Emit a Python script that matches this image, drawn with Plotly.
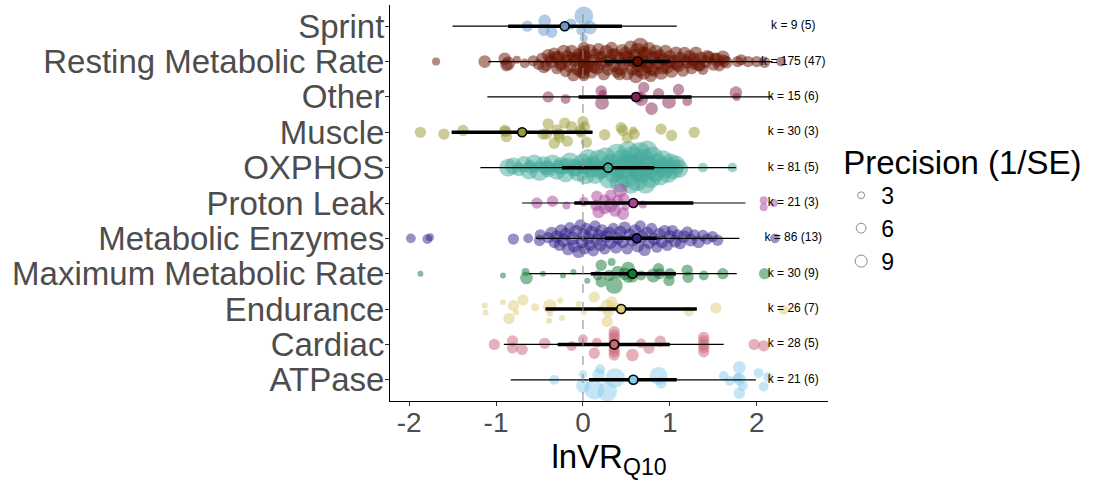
import math
import plotly.graph_objects as go

# ---------------- data ----------------
categories = ["Sprint", "Resting Metabolic Rate", "Other", "Muscle", "OXPHOS",
              "Proton Leak", "Metabolic Enzymes", "Maximum Metabolic Rate",
              "Endurance", "Cardiac", "ATPase"]
colors = ["#6699CC", "#661100", "#882255", "#999933", "#44AA99", "#AA4499",
          "#332288", "#117733", "#DDCC77", "#CC6677", "#88CCEE"]

estimate = [-0.21, 0.63, 0.61, -0.70, 0.29, 0.58, 0.62, 0.57, 0.44, 0.36, 0.58]
ci_low = [-0.86, 0.25, -0.05, -1.51, -0.24, -0.10, 0.25, 0.09, -0.43, -0.29, 0.07]
ci_high = [0.45, 1.00, 1.25, 0.11, 0.82, 1.27, 0.85, 1.07, 1.31, 1.00, 1.08]
pi_low = [-1.50, -1.09, -1.10, -1.51, -1.18, -0.70, -0.54, -0.62, -0.43, -0.91, -0.83]
pi_high = [1.08, 2.18, 2.18, 0.11, 1.76, 1.87, 1.80, 1.77, 1.31, 1.62, 1.99]
k_effects = [9, 175, 15, 30, 81, 21, 86, 30, 26, 28, 21]
k_studies = [5, 47, 6, 3, 5, 3, 13, 9, 7, 5, 6]

sprint_x = [-0.64, -0.44, -0.45, -0.36, -0.14, 0.01, 0.08, -0.02, 0.01]
sprint_jit = [0.00, 0.15, -0.12, -0.17, 0.06, 0.29, -0.04, -0.12, -0.34]
sprint_prec = [4, 5, 4, 4, 4, 11, 6, 3, 2]

rmr_x = [-1.69, -1.13, -0.90, -0.86, -0.88, -0.76, -0.67, -0.57, -0.51, -0.47, -0.40, -0.42,
         -0.36, -0.33, -0.30, -0.28, -0.25, -0.22, -0.20, -0.18, -0.15, -0.13, -0.11, -0.09,
         -0.07, -0.05, -0.03, 0.01, 0.01, 0.01, 0.01, 0.01, 0.01, 0.01, 0.01, 0.01,
         0.03, 0.05, 0.08, 0.10, 0.12, 0.14, 0.16, 0.18, 0.20, 0.22, 0.24, 0.27,
         0.29, 0.31, 0.33, 0.35, 0.37, 0.39, 0.41, 0.43, 0.45, 0.47, 0.49, 0.51,
         0.53, 0.55, 0.57, 0.59, 0.61, 0.63, 0.64, 0.66, 0.68, 0.70, 0.72, 0.74,
         0.76, 0.78, 0.80, 0.82, 0.84, 0.86, 0.88, 0.90, 0.93, 0.95, 0.97, 1.00,
         1.02, 1.05, 1.07, 1.10, 1.12, 1.15, 1.17, 1.20, 1.23, 1.25, 1.28, 1.30,
         1.33, 1.36, 1.38, 1.41, 1.45, 1.50, 1.54, 1.57, 1.61, 1.65, 1.78, 1.82,
         1.90, 2.00, 2.09, 2.28,
         -0.45, -0.38, -0.31, -0.26, -0.19, -0.12, -0.06, 0.06, 0.13, 0.19, 0.26, 0.34,
         0.42, 0.50, 0.58, 0.65, 0.69, 0.73, 0.79, 0.85, 0.92, 0.99, 1.08, 1.18,
         1.27, 1.35, 1.43, 1.52, 1.62]
rmr_jit = [0.00, 0.00, 0.08, -0.05, -0.10, 0.05, -0.05, 0.02, -0.08, 0.10, 0.18, -0.12,
           0.00, 0.22, -0.20, 0.10, -0.05, 0.28, -0.28, 0.15, -0.12, 0.30, -0.38, 0.05,
           -0.22, 0.20, -0.30, 0.38, 0.28, 0.18, 0.08, -0.02, -0.12, -0.22, -0.32, -0.40,
           0.15, -0.15, 0.30, -0.30, 0.05, 0.22, -0.18, 0.35, -0.05, 0.15, -0.35, 0.28,
           -0.22, 0.05, 0.38, -0.10, 0.20, -0.30, 0.10, -0.20, 0.32, -0.05, 0.22, -0.35,
           0.05, 0.40, -0.22, 0.15, -0.42, 0.30, -0.10, 0.45, 0.02, -0.30, 0.22, -0.15,
           0.36, -0.40, 0.10, -0.25, 0.28, -0.05, 0.18, -0.32, 0.05, 0.30, -0.15, 0.15,
           -0.28, 0.00, 0.25, -0.12, 0.12, -0.25, 0.22, -0.02, 0.15, -0.18, 0.05, 0.25,
           -0.10, 0.10, -0.22, 0.00, 0.12, -0.08, 0.05, -0.12, 0.12, -0.02, 0.00, 0.05,
           0.00, 0.00, -0.02, 0.00,
           -0.15, 0.08, 0.12, -0.12, 0.02, 0.12, 0.10, 0.00, -0.15, 0.12, 0.00, 0.22,
           -0.35, 0.12, 0.00, -0.20, 0.25, -0.02, -0.22, 0.10, -0.18, 0.00, -0.08, 0.05,
           -0.05, -0.12, 0.15, 0.10, 0.02]
rmr_prec = [2, 5, 5, 6, 5, 2, 3, 4, 4, 4, 5, 4,
            5, 5, 4, 6, 5, 6, 4, 5, 6, 5, 5, 6,
            5, 5, 4, 5, 5, 5, 6, 5, 5, 5, 5, 4,
            4, 5, 6, 5, 5, 4, 6, 5, 5, 4, 5, 6,
            5, 5, 5, 6, 5, 4, 5, 6, 5, 5, 6, 5,
            6, 6, 5, 7, 6, 8, 6, 8, 6, 7, 6, 5,
            6, 5, 6, 5, 6, 5, 5, 6, 5, 5, 6, 5,
            5, 6, 5, 5, 4, 5, 6, 5, 5, 5, 6, 5,
            5, 5, 4, 5, 5, 5, 6, 4, 6, 5, 4, 4,
            4, 4, 4, 3,
            5, 4, 5, 4, 5, 4, 5, 4, 5, 4, 5, 4,
            5, 6, 5, 9, 5, 6, 5, 6, 5, 6, 5, 4,
            5, 4, 5, 4, 5]

other_x = [-0.40, -0.20, 0.21, 0.22, 0.23, 0.70, 0.67, 0.79, 0.87, 0.99, 1.10, 1.20, 1.76, 1.77, 0.64]
other_jit = [0.00, -0.06, 0.17, -0.17, 0.08, 0.27, -0.06, -0.33, 0.09, -0.14, 0.21, -0.12, 0.12, 0.00, 0.00]
other_prec = [4, 3, 4, 6, 2, 4, 6, 5, 4, 6, 4, 3, 5, 2, 4]

muscle_x = [-1.87, -1.60, -1.38, -0.89, -0.88, -0.40, -0.46, -0.30, -0.27, -0.21, -0.13, -0.18,
            -0.33, 0.00, -0.02, 0.04, 0.25, 0.44, 0.51, 0.58, 0.59, 0.90, 1.02, 1.28,
            -0.90, -0.03, 0.02, -0.42, -0.28, 0.46]
muscle_jit = [0.00, -0.05, 0.05, 0.02, -0.12, 0.24, -0.05, 0.07, -0.14, 0.26, 0.16, -0.25,
              -0.31, 0.30, 0.00, -0.28, -0.07, 0.13, -0.15, 0.05, -0.05, 0.09, -0.09, 0.00,
              0.05, 0.05, 0.15, -0.05, -0.05, 0.05]
muscle_prec = [4, 4, 4, 4, 4, 4, 4, 4, 4, 4, 4, 4,
               4, 4, 4, 4, 4, 4, 4, 2, 4, 4, 4, 4,
               4, 4, 4, 4, 4, 4]

oxphos_x = [-0.86, -0.80, -0.74, -0.68, -0.62, -0.56, -0.50, -0.45, -0.40, -0.35, -0.30, -0.25,
            -0.20, -0.15, -0.10, -0.05, 0.00, 0.03, 0.06, 0.10, 0.14, 0.18, 0.22, 0.26,
            0.30, 0.33, 0.36, 0.39, 0.42, 0.45, 0.47, 0.50, 0.52, 0.55, 0.57, 0.60,
            0.62, 0.65, 0.67, 0.70, 0.72, 0.74, 0.76, 0.78, 0.80, 0.83, 0.86, 0.89,
            0.92, 0.95, 0.98, 1.01, 1.04, 1.07, 1.11, 1.38, 1.72,
            -0.60, -0.42, -0.28, -0.18, -0.08, 0.04, 0.12, 0.20, 0.28, 0.40, 0.54, 0.64]
oxphos_jit = [0.00, 0.05, -0.05, 0.10, -0.08, 0.12, -0.10, 0.08, -0.05, 0.12, -0.10, 0.05,
              -0.15, 0.15, 0.00, -0.12, 0.12, -0.22, 0.25, 0.00, -0.20, 0.22, -0.05, 0.30,
              -0.30, 0.10, -0.15, 0.38, -0.42, 0.20, 0.00, -0.25, 0.45, -0.45, 0.28, 0.05,
              -0.35, 0.40, -0.12, 0.20, -0.45, 0.48, 0.00, -0.28, 0.30, -0.10, 0.12, -0.20,
              0.20, 0.00, -0.15, 0.12, -0.05, 0.08, -0.03, 0.00, 0.00,
              0.02, 0.00, 0.02, 0.05, -0.02, 0.05, 0.10, -0.10, 0.05, -0.05, 0.12, -0.08]
oxphos_prec = [10, 9, 6, 8, 10, 10, 12, 9, 8, 10, 9, 10,
               11, 12, 10, 12, 12, 10, 12, 12, 11, 13, 10, 12,
               13, 14, 13, 14, 12, 15, 16, 15, 14, 13, 16, 16,
               15, 16, 15, 16, 13, 13, 15, 14, 14, 14, 12, 14,
               13, 13, 12, 12, 12, 11, 10, 3, 3,
               6, 7, 6, 8, 7, 9, 8, 9, 10, 12, 12, 12]

proton_x = [-0.53, -0.35, -0.19, 0.01, 0.16, 0.15, 0.18, 0.25, 0.32, 0.32, 0.37, 0.40,
            0.43, 0.46, 0.47, 0.49, 0.69, 2.08, 2.20, 2.08, 0.25]
proton_jit = [0.00, 0.05, -0.07, 0.04, 0.19, -0.07, -0.25, 0.09, -0.07, 0.22, -0.21, 0.07,
              0.36, -0.30, 0.12, -0.10, -0.04, 0.08, 0.00, -0.12, -0.16]
proton_prec = [4, 4, 2, 3, 4, 4, 5, 4, 6, 4, 5, 4,
               6, 5, 4, 2, 2, 2, 2, 2, 4]

enzyme_x = [-1.98, -1.79, -1.76, -0.80, -0.63, -0.49, -0.50,
            -0.40, -0.36, -0.33, -0.30, -0.27, -0.25, -0.22, -0.20, -0.17, -0.15, -0.12, -0.10,
            -0.08, -0.05, -0.03, -0.01, 0.01, 0.02, 0.04, 0.06, 0.08, 0.10, 0.12, 0.14,
            0.16, 0.18, 0.20, 0.22, 0.25, 0.27, 0.30, 0.32, 0.35, 0.38, 0.40, 0.43,
            0.46, 0.48, 0.51, 0.54, 0.57, 0.60, 0.63, 0.66, 0.68, 0.71, 0.74, 0.76,
            0.79, 0.82, 0.85, 0.88, 0.91, 0.94, 0.97, 1.00, 1.03, 1.06, 1.09, 1.12,
            1.16, 1.20, 1.24, 1.28, 1.33, 1.38, 1.43, 1.49, 1.55, 2.21]
enzyme_jit = [0.00, -0.02, 0.03, -0.02, 0.00, 0.10, -0.06,
              0.02, 0.15, -0.12, 0.05, -0.20, 0.22, -0.05, 0.12, -0.30, 0.30, 0.00, -0.22,
              0.20, -0.38, 0.38, -0.10, 0.10, -0.30, 0.28, 0.00, -0.20, 0.18, -0.35, 0.35,
              -0.05, 0.10, -0.18, 0.22, -0.30, 0.05, 0.15, -0.12, 0.28, -0.25, 0.00, 0.18,
              -0.10, 0.30, -0.30, 0.10, -0.05, 0.22, -0.22, 0.35, 0.05, -0.32, 0.15, -0.12,
              0.28, -0.02, -0.25, 0.12, -0.10, 0.20, -0.20, 0.05, 0.22, -0.08, 0.10, -0.15,
              0.05, 0.18, -0.05, 0.10, -0.10, 0.08, -0.02, 0.05, -0.05, 0.00]
enzyme_prec = [3, 3, 2, 4, 3, 4, 4,
               4, 5, 4, 5, 4, 5, 6, 5, 5, 4, 6, 5,
               5, 5, 4, 5, 5, 4, 4, 5, 4, 5, 4, 4,
               5, 4, 5, 5, 4, 5, 5, 5, 4, 5, 5, 5,
               5, 5, 4, 5, 5, 5, 5, 4, 5, 5, 5, 5,
               4, 5, 4, 5, 5, 5, 4, 5, 4, 5, 4, 4,
               5, 4, 5, 4, 5, 4, 4, 4, 4, 3]

mmr_x = [-1.87, -0.92, -0.65, -0.66, -0.46, -0.23, -0.11, 0.05, 0.17, 0.21, 0.21, 0.33,
         0.30, 0.36, 0.48, 0.52, 0.57, 0.67, 0.81, 0.87, 0.88, 0.99, 1.00, 1.20,
         1.21, 1.39, 1.61, 2.09, 0.52, 0.40]
mmr_jit = [0.00, -0.05, -0.12, 0.05, 0.00, -0.05, 0.05, -0.20, -0.05, 0.24, -0.23, 0.33,
           -0.05, -0.33, 0.00, 0.14, -0.09, -0.05, -0.05, 0.14, 0.00, -0.19, 0.00, 0.10,
           -0.10, -0.05, 0.00, 0.00, -0.10, 0.05]
mmr_prec = [1, 1, 5, 2, 1, 1, 1, 1, 3, 4, 4, 2,
            4, 9, 5, 6, 4, 3, 6, 4, 4, 4, 4, 4,
            4, 3, 4, 4, 4, 5]

endur_x = [-1.13, -1.12, -0.92, -0.80, -0.69, -0.77, -0.85, -0.39, -0.38, -0.38, -0.26, -0.24,
           -0.05, 0.01, 0.13, 0.28, 0.29, 0.33, 0.28, 1.22, 1.53, 2.31, 0.44, 0.40,
           -0.55, 0.20]
endur_jit = [0.10, -0.10, 0.19, 0.10, 0.26, -0.09, -0.27, -0.33, 0.08, -0.13, 0.24, -0.25,
             0.14, -0.08, 0.34, 0.08, -0.07, 0.20, -0.35, -0.07, 0.03, -0.02, 0.00, 0.05,
             0.05, 0.00]
endur_prec = [1, 1, 1, 4, 4, 1, 4, 1, 6, 1, 1, 1,
              1, 1, 4, 6, 4, 4, 4, 3, 4, 3, 4, 3,
              2, 1]

cardiac_x = [-1.02, -0.81, -0.81, -0.70, -0.44, -0.13, 0.00, 0.13, 0.16,
             0.36, 0.36, 0.36, 0.36, 0.36, 0.36, 0.36, 0.36,
             0.57, 0.67, 0.76, 0.89,
             1.39, 1.39, 1.39, 1.39, 1.39, 1.97, 2.08]
cardiac_jit = [0.00, 0.10, -0.10, -0.14, 0.03, -0.05, 0.15, -0.25, 0.05,
               0.36, 0.26, 0.17, 0.07, -0.02, -0.12, -0.21, -0.30,
               -0.30, 0.03, -0.11, 0.09,
               0.20, 0.10, 0.00, -0.09, -0.21, 0.00, -0.04]
cardiac_prec = [4, 4, 4, 4, 4, 3, 3, 4, 3,
                4, 4, 4, 4, 4, 4, 4, 4,
                5, 3, 4, 4,
                4, 4, 4, 4, 4, 4, 4]

atpase_x = [-0.33, 0.00, 0.00, 0.13, 0.18, 0.20, 0.28, 0.37, 0.87, 0.90, 1.62, 1.69,
            1.80, 1.80, 1.84, 1.80, 2.02, 2.08, 2.13, 0.58, 1.78]
atpase_jit = [0.00, 0.16, -0.17, -0.28, 0.14, 0.30, -0.33, 0.05, 0.11, -0.09, 0.11, -0.03,
              0.35, 0.02, -0.17, -0.38, 0.19, -0.19, 0.08, 0.00, 0.05]
atpase_prec = [3, 2, 6, 12, 5, 3, 12, 12, 10, 4, 3, 3,
               5, 5, 3, 4, 3, 3, 3, 4, 3]

point_x = [sprint_x, rmr_x, other_x, muscle_x, oxphos_x, proton_x, enzyme_x, mmr_x,
           endur_x, cardiac_x, atpase_x]
point_jit = [sprint_jit, rmr_jit, other_jit, muscle_jit, oxphos_jit, proton_jit, enzyme_jit,
             mmr_jit, endur_jit, cardiac_jit, atpase_jit]
point_prec = [sprint_prec, rmr_prec, other_prec, muscle_prec, oxphos_prec, proton_prec,
              enzyme_prec, mmr_prec, endur_prec, cardiac_prec, atpase_prec]

legend_values = [3, 6, 9]
x_ticks = [-2, -1, 0, 1, 2]

# ---------------- figure ----------------
FONT = "Liberation Sans, Arial, Helvetica, sans-serif"
n = len(categories)
ypos = [n - i for i in range(n)]
SIZEREF = 1.0 / 16.0
K_LABEL_X = 2.42

fig = go.Figure()

# effect-size points (beeswarm)
for i, cat in enumerate(categories):
    fig.add_trace(go.Scatter(
        x=point_x[i],
        y=[ypos[i] + j for j in point_jit[i]],
        mode="markers",
        marker=dict(size=point_prec[i], sizemode="area", sizeref=SIZEREF, sizemin=3,
                    color=colors[i], opacity=0.5, line=dict(width=0)),
        showlegend=False, hoverinfo="x+name", name=cat))

# prediction intervals (thin)
for i, cat in enumerate(categories):
    fig.add_trace(go.Scatter(
        x=[pi_low[i], pi_high[i]], y=[ypos[i], ypos[i]], mode="lines",
        line=dict(color="black", width=1.2), showlegend=False, hoverinfo="skip"))

# confidence intervals (thick)
for i, cat in enumerate(categories):
    fig.add_trace(go.Scatter(
        x=[ci_low[i], ci_high[i]], y=[ypos[i], ypos[i]], mode="lines",
        line=dict(color="black", width=3.5), showlegend=False, hoverinfo="skip"))

# point estimates
fig.add_trace(go.Scatter(
    x=estimate, y=ypos, mode="markers",
    marker=dict(size=9, color=colors, line=dict(color="black", width=1.6)),
    showlegend=False, hoverinfo="x"))

# k labels
fig.add_trace(go.Scatter(
    x=[K_LABEL_X] * n, y=ypos, mode="text",
    text=[f"k = {k} ({s})" for k, s in zip(k_effects, k_studies)],
    textfont=dict(family=FONT, size=12, color="black"),
    textposition="middle center", showlegend=False, hoverinfo="skip"))

# size legend
for v in legend_values:
    fig.add_trace(go.Scatter(
        x=[None], y=[None], mode="markers", name=str(v),
        marker=dict(size=4 * math.sqrt(v), color="white",
                    line=dict(color="#8c8c8c", width=1)),
        showlegend=True))

fig.add_vline(x=0, line=dict(color="#8c8c8c", width=1.1, dash="dash"))

fig.update_layout(
    width=1094, height=482,
    margin=dict(l=390, r=266, t=5, b=81),
    paper_bgcolor="white", plot_bgcolor="white",
    font=dict(family=FONT),
    legend=dict(
        title=dict(text="Precision (1/SE)", font=dict(family=FONT, size=33, color="black")),
        font=dict(family=FONT, size=23, color="black"),
        x=1.03, xanchor="left", y=0.682, yanchor="top",
        itemsizing="trace", itemwidth=30, tracegroupgap=0, bgcolor="rgba(0,0,0,0)"),
    xaxis=dict(
        range=[-2.22, 2.82], tickvals=x_ticks, ticktext=[str(t) for t in x_ticks],
        showgrid=False, zeroline=False, showline=True, linecolor="black", linewidth=1,
        ticks="outside", ticklen=4, tickcolor="#333333", tickwidth=1,
        tickfont=dict(family=FONT, size=28, color="#4d4d4d"),
        ticklabelstandoff=-8,
        title=dict(text="lnVR<sub>Q10</sub>", font=dict(family=FONT, size=33, color="black"),
                   standoff=4),
        automargin=False),
    yaxis=dict(
        range=[0.4, n + 0.6], tickvals=ypos, ticktext=categories,
        showgrid=False, zeroline=False, showline=True, linecolor="black", linewidth=1,
        ticks="outside", ticklen=4, tickcolor="#333333", tickwidth=1,
        tickfont=dict(family=FONT, size=33, color="#4d4d4d"),
        ticklabelstandoff=-6,
        automargin=False),
)

fig.write_html("out.html", config={"displayModeBar": False},
               post_script="document.body.style.margin='0';")
